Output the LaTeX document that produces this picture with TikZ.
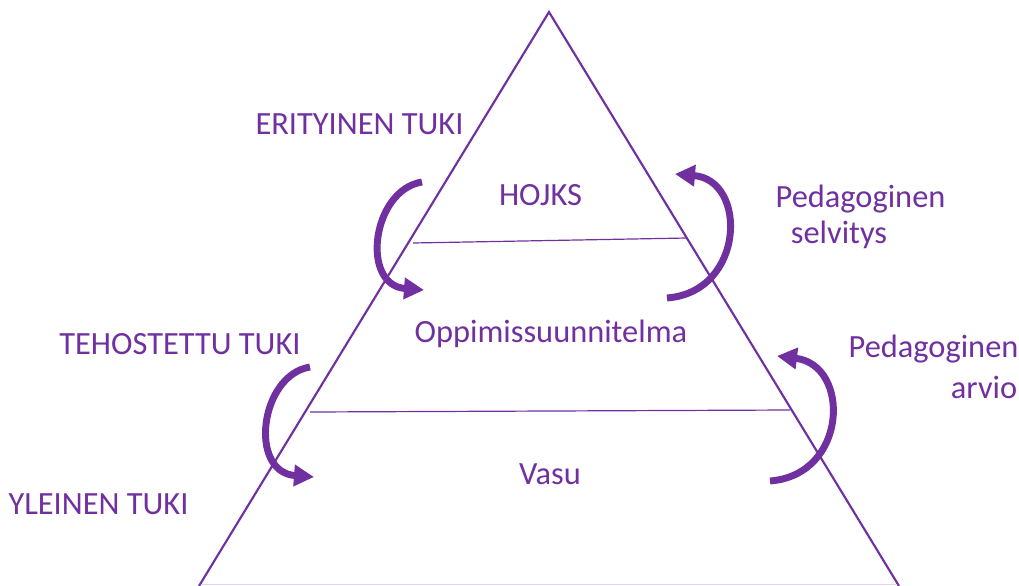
\documentclass[tikz,border=0pt]{standalone}
\usepackage{fontspec}
\setmainfont{Carlito}
\usetikzlibrary{arrows.meta}
\definecolor{purp}{HTML}{7030A0}
\tikzset{
  lbl/.style={inner sep=0pt, anchor=base, text=purp, font=\fontsize{24.3pt}{28pt}\selectfont},
  edge/.style={draw=purp, line width=1.6pt, line join=miter},
  baseedge/.style={draw=purp!20, line width=1.2pt},
  level/.style={draw=purp, line width=0.9pt},
  cyc/.style={draw=purp, line width=5.2pt, -{Triangle[length=15pt, width=15.5pt]}},
}
\begin{document}
\begin{tikzpicture}[x=0.75pt, y=-0.75pt]
\useasboundingbox (0,0) rectangle (1019,585);
% triangle
\coordinate (apex) at (549,12);
\coordinate (bl) at (199,586);
\coordinate (br) at (899,586);
\coordinate (bbl) at (201,584.6);
\coordinate (bbr) at (897,584.6);
\draw[edge] (bl) -- (apex) -- (br);
\draw[baseedge] (bbl) -- (bbr);
% level lines
\coordinate (l1a) at (413,243);
\coordinate (l1b) at (687,238);
\coordinate (l2a) at (310,412);
\coordinate (l2b) at (790,410);
\draw[level] (l1a) -- (l1b);
\draw[level] (l2a) -- (l2b);
% labels
\node[lbl] (eri) at (359.5,134) {ERITYINEN TUKI};
\node[lbl] (teh) at (180,354) {TEHOSTETTU TUKI};
\node[lbl] (yle) at (98.5,514) {YLEINEN TUKI};
\node[lbl] (hojks) at (540.5,205) {HOJKS};
\node[lbl] (opp) at (551,342) {Oppimissuunnitelma};
\node[lbl] (vasu) at (550,484) {Vasu};
\node[lbl] (ped1) at (860.5,207) {Pedagoginen};
\node[lbl] (selv) at (839,243) {selvitys};
\node[lbl] (ped2) at (933.5,357) {Pedagoginen};
\node[lbl] (arv) at (984,398) {arvio};
% cycle arrows
\coordinate (a1s) at (422,182);
\coordinate (a1e) at (424,290);
\draw[cyc] (a1s) .. controls (372,190) and (360,285) .. (a1e);
\coordinate (a2s) at (667,298);
\coordinate (a2e) at (675,174);
\draw[cyc] (a2s) .. controls (745,292) and (748,180) .. (a2e);
\coordinate (a3s) at (310,367);
\coordinate (a3e) at (314,477);
\draw[cyc] (a3s) .. controls (260,375) and (248,472) .. (a3e);
\coordinate (a4s) at (770,481);
\coordinate (a4e) at (777,356);
\draw[cyc] (a4s) .. controls (848,475) and (851,365) .. (a4e);
\end{tikzpicture}
\end{document}
